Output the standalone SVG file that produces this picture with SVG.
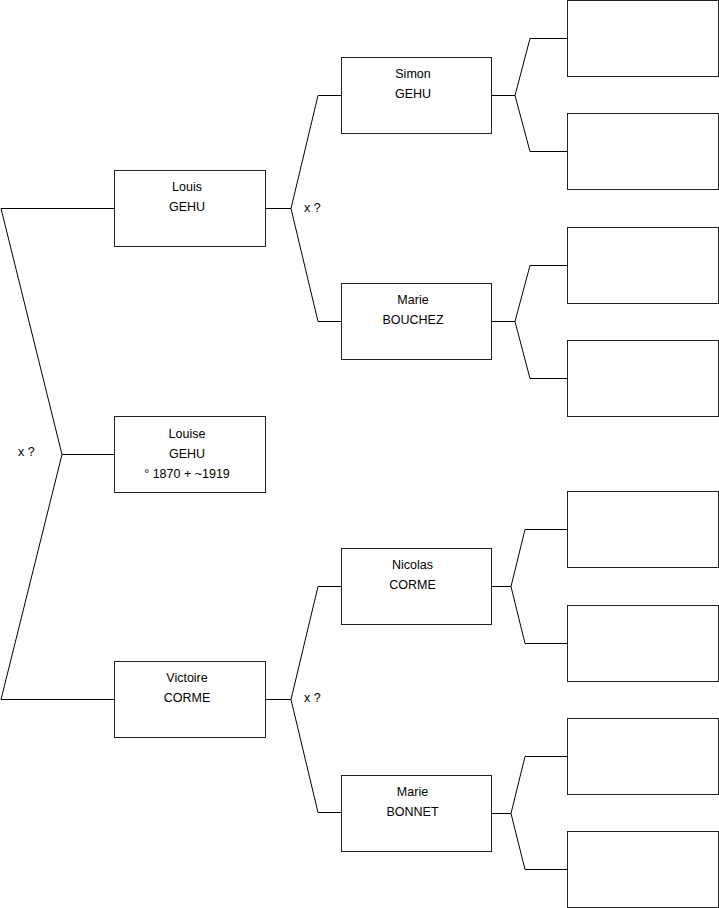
<svg xmlns="http://www.w3.org/2000/svg" width="719" height="908" viewBox="0 0 719 908">
<style>
.box{fill:#fff;stroke:#222;stroke-width:1}
.ln{fill:none;stroke:#000;stroke-width:1}
text{font-family:"Liberation Sans",Arial,sans-serif;font-size:12.5px;fill:#000}
.c{text-anchor:middle}
</style>
<rect width="719" height="908" fill="#fff"/>
<g id="connectors">
<polyline class="ln" points="114,208.5 1,208.5 62,454.5 1,699.5 114,699.5"/>
<line class="ln" x1="62" y1="454.5" x2="114" y2="454.5"/>
<text x="18" y="456">x ?</text>
<line class="ln" x1="265" y1="208.5" x2="291" y2="208.5"/>
<polyline class="ln" points="341,95.5 318,95.5 291,208.5 318,321.5 341,321.5"/>
<text x="304" y="212">x ?</text>
<line class="ln" x1="265" y1="699.5" x2="291" y2="699.5"/>
<polyline class="ln" points="341,586.5 318,586.5 291,699.5 318,812.5 341,812.5"/>
<text x="304" y="702">x ?</text>
<line class="ln" x1="492" y1="95.5" x2="515" y2="95.5"/>
<polyline class="ln" points="567,38.5 530,38.5 515,95.5 530,151.5 567,151.5"/>
<line class="ln" x1="492" y1="321.5" x2="515" y2="321.5"/>
<polyline class="ln" points="567,265.5 530,265.5 515,321.5 530,378.5 567,378.5"/>
<line class="ln" x1="492" y1="586.5" x2="511" y2="586.5"/>
<polyline class="ln" points="567,529.5 525,529.5 511,586.5 525,643.5 567,643.5"/>
<line class="ln" x1="492" y1="813.5" x2="511" y2="813.5"/>
<polyline class="ln" points="567,756.5 525,756.5 511,813.5 525,869.5 567,869.5"/>
</g>
<g id="louis"><rect class="box" x="114.5" y="170.5" width="151" height="76"/><text class="c" x="187" y="191">Louis</text><text class="c" x="187" y="211">GEHU</text></g>
<g id="louise"><rect class="box" x="114.5" y="416.5" width="151" height="76"/><text class="c" x="187" y="438">Louise</text><text class="c" x="187" y="458">GEHU</text><text class="c" x="187" y="478">° 1870 + ~1919</text></g>
<g id="victoire"><rect class="box" x="114.5" y="661.5" width="151" height="76"/><text class="c" x="187" y="682">Victoire</text><text class="c" x="187" y="702">CORME</text></g>
<g id="simon"><rect class="box" x="341.5" y="57.5" width="150" height="76"/><text class="c" x="413" y="78">Simon</text><text class="c" x="413" y="98">GEHU</text></g>
<g id="marie-bouchez"><rect class="box" x="341.5" y="283.5" width="150" height="76"/><text class="c" x="413" y="304">Marie</text><text class="c" x="413" y="324">BOUCHEZ</text></g>
<g id="nicolas"><rect class="box" x="341.5" y="548.5" width="150" height="76"/><text class="c" x="412.5" y="569">Nicolas</text><text class="c" x="412.5" y="589">CORME</text></g>
<g id="marie-bonnet"><rect class="box" x="341.5" y="775.5" width="150" height="76"/><text class="c" x="412.5" y="796">Marie</text><text class="c" x="412.5" y="816">BONNET</text></g>
<g id="g3-1"><rect class="box" x="567.5" y="0.5" width="151" height="76"/></g>
<g id="g3-2"><rect class="box" x="567.5" y="113.5" width="151" height="76"/></g>
<g id="g3-3"><rect class="box" x="567.5" y="227.5" width="151" height="76"/></g>
<g id="g3-4"><rect class="box" x="567.5" y="340.5" width="151" height="76"/></g>
<g id="g3-5"><rect class="box" x="567.5" y="491.5" width="151" height="76"/></g>
<g id="g3-6"><rect class="box" x="567.5" y="605.5" width="151" height="76"/></g>
<g id="g3-7"><rect class="box" x="567.5" y="718.5" width="151" height="76"/></g>
<g id="g3-8"><rect class="box" x="567.5" y="831.5" width="151" height="76"/></g>
</svg>
